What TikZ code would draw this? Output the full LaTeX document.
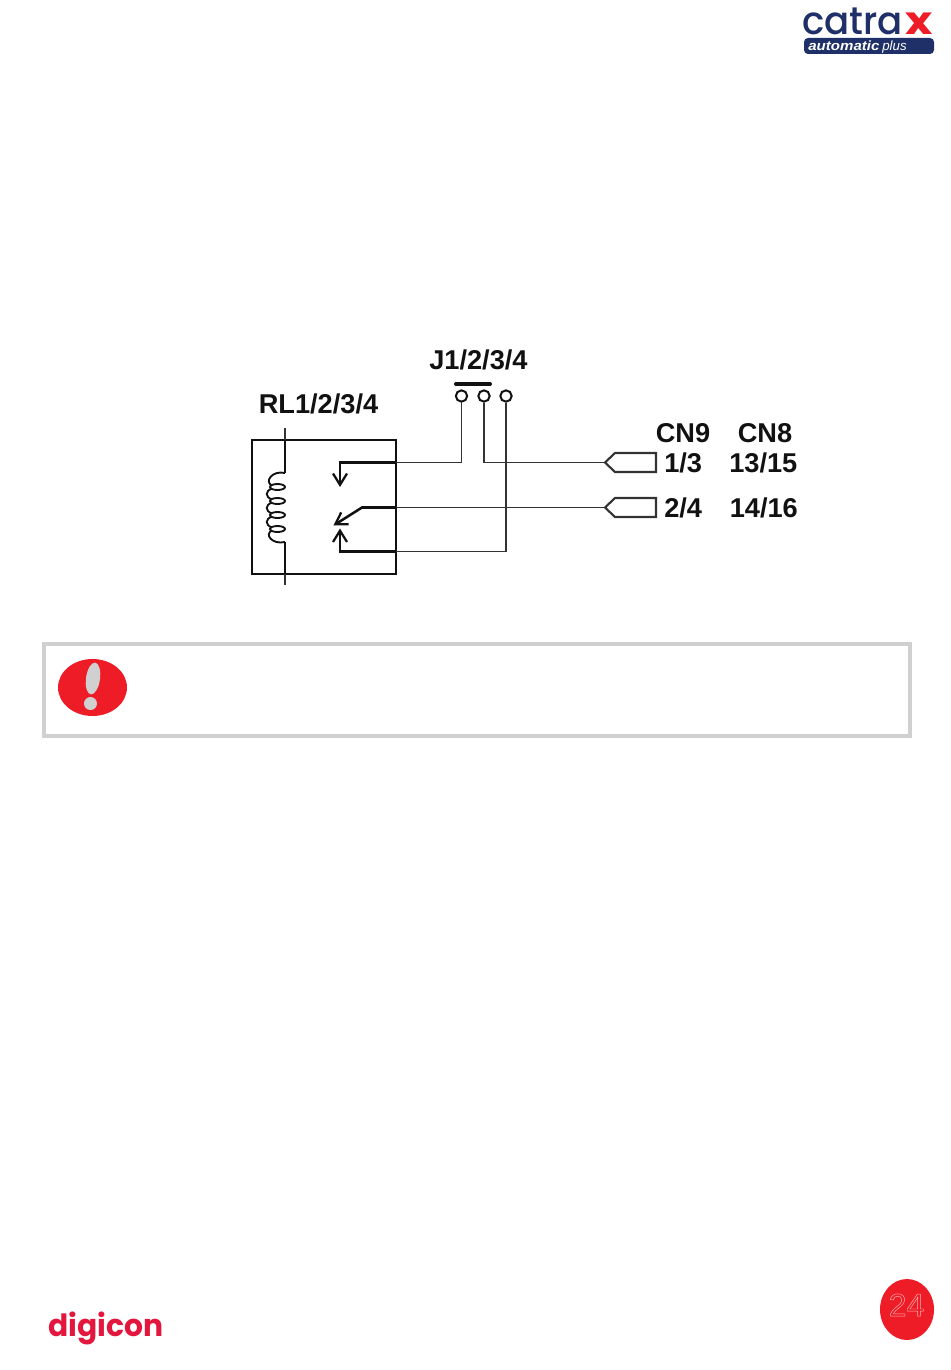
\documentclass[tikz,border=0pt]{standalone}
\usepackage{fontspec}
\setmainfont{Liberation Sans}
\newfontfamily\logofont{Poppins}
\newfontfamily\logomed{Poppins}[UprightFont=* Medium]
\usetikzlibrary{arrows.meta}
\definecolor{inkc}{HTML}{111111}
\definecolor{wirec}{HTML}{333333}
\definecolor{greyc}{HTML}{D0D0D0}
\definecolor{redc}{HTML}{EE1C27}
\definecolor{navyc}{HTML}{1F3068}
\definecolor{digic}{HTML}{E3173E}
\tikzset{
  thick wire/.style={draw=inkc,line width=1.9pt,line join=miter},
  thin wire/.style={draw=wirec,line width=0.95pt},
  barb/.style={-{Straight Barb[length=8.5pt,width=10.5pt,line width=1.7pt]}},
  lbl/.style={inner sep=0pt,anchor=base west,text=inkc,font=\fontsize{20.4}{24}\selectfont\bfseries},
  pin/.style={draw=wirec,line width=1.6pt,fill=white},
  term/.style={circle,draw=inkc,line width=1.5pt,fill=white,minimum size=8.5pt,inner sep=0pt},
  coil/.style={draw=inkc,line width=1.4pt},
}
\newcommand{\outlinetxt}[1]{\special{pdf:code q 1 0.72 0.72 RG 0.35 w 1 Tr}#1\special{pdf:code Q}}
\begin{document}
\begin{tikzpicture}[x=0.75pt,y=-0.75pt]
\useasboundingbox (0,0) rectangle (950,1370);

% logo
\node[inner sep=0pt,anchor=base west,text=navyc,font=\logomed\fontsize{29}{30}\selectfont,xscale=0.96] (catr) at (802,35) {catra};
\node[inner sep=0pt,anchor=base west,text=redc,font=\logofont\bfseries\fontsize{29}{30}\selectfont,xscale=1.2] (catx) at (905,35) {x};
\fill[navyc,rounded corners=3pt] (804,38) rectangle (934,54);
\node[inner sep=0pt,anchor=base west,text=white,font=\fontsize{10}{11}\selectfont\bfseries\itshape,xscale=1.13] (auto) at (808,50.5) {automatic};
\node[inner sep=0pt,anchor=base west,text=white,font=\fontsize{10}{11}\selectfont\itshape] (plus) at (882,50.5) {plus};

% labels
\node[lbl] (jl) at (429,369) {J1/2/3/4};
\node[lbl] (rl) at (258.5,413) {RL1/2/3/4};
\node[lbl] (cn9) at (655.5,442) {CN9};
\node[lbl] (cn8) at (737.5,442) {CN8};
\node[lbl] (a1) at (664,472.5) {1/3};
\node[lbl] (a2) at (729,472.5) {13/15};
\node[lbl] (b1) at (664,517.5) {2/4};
\node[lbl] (b2) at (729.5,517.5) {14/16};

% relay box
\draw[thick wire] (252,440) rectangle (396,574);
\coordinate (ctop) at (285,428);
\coordinate (cbot) at (285,585);
\coordinate (ca) at (285,473);
\coordinate (cb) at (285,542);
\draw[thin wire] (ctop) -- (ca);
\draw[thin wire] (cb) -- (cbot);
\draw[thick wire] (285,440) -- (ca);
\draw[thick wire] (cb) -- (285,574);
\draw[coil] (ca) .. controls (272,470) and (264,482) .. (272,485.5);
\draw[coil] (272,488.5) .. controls (265,491) and (265,497) .. (272,499.5);
\draw[coil] (272,502.5) .. controls (265,505) and (265,511) .. (272,513.5);
\draw[coil] (272,516.5) .. controls (265,519) and (265,525) .. (272,527.5);
\draw[coil] (272,530.5) .. controls (264,534) and (272,545) .. (cb);
\draw[coil] (277.5,487) ellipse [x radius=7.5,y radius=3];
\draw[coil] (277.5,501) ellipse [x radius=7.5,y radius=3];
\draw[coil] (277.5,515) ellipse [x radius=7.5,y radius=3];
\draw[coil] (277.5,529) ellipse [x radius=7.5,y radius=3];

% terminals and jumper
\node[term] (t1) at (461.5,396) {};
\node[term] (t2) at (484,396) {};
\node[term] (t3) at (506,396) {};
\coordinate (jl1) at (456,384);
\coordinate (jl2) at (490,384);
\draw[draw=inkc,line width=3pt,line cap=round] (jl1) -- (jl2);

% contact points
\coordinate (nc) at (340,487);
\coordinate (ncc) at (340,462.5);
\coordinate (ncb) at (396,462.5);
\coordinate (no) at (340,528.5);
\coordinate (noc) at (340,551.5);
\coordinate (nob) at (396,551.5);
\coordinate (com) at (362,507.5);
\coordinate (comb) at (396,507.5);
\coordinate (comt) at (333.5,525.5);
\coordinate (p1) at (605,462.5);
\coordinate (p2) at (605,507.5);

% wires
\draw[thin wire] (t1.south) |- (ncb);
\draw[thick wire,barb] (ncb) -- (ncc) -- (nc);
\draw[thin wire] (t2.south) |- (p1);
\draw[thin wire] (t3.south) |- (nob);
\draw[thick wire,barb] (nob) -- (noc) -- (no);
\draw[thin wire] (comb) -- (p2);
\draw[thick wire,barb] (comb) -- (com) -- (comt);

% connector pins
\draw[pin] (p1) -- ++(10,-9.5) -- ++(41,0) -- ++(0,19) -- ++(-41,0) -- cycle;
\draw[pin] (p2) -- ++(10,-9.5) -- ++(41,0) -- ++(0,19) -- ++(-41,0) -- cycle;

% warning box
\draw[draw=greyc,line width=3pt] (44,644) rectangle (910,736);
\fill[redc] (92.5,687.5) ellipse [x radius=34.5,y radius=28.5];
\fill[greyc,rotate around={-8:(93,678.5)}] (93,678.5) ellipse [x radius=7,y radius=16];
\fill[greyc] (90.5,703.5) circle [radius=6.5];

% footer
\node[inner sep=0pt,anchor=base west,text=digic,font=\logofont\bfseries\fontsize{23}{24}\selectfont,xscale=0.97] (digi) at (48,1336.5) {digicon};
\fill[redc] (907,1309.5) ellipse [x radius=27,y radius=30.5];
\node[inner sep=0pt,text=redc,font=\fontsize{24}{26}\selectfont] (pg) at (906.5,1305) {\outlinetxt{24}};
\end{tikzpicture}
\end{document}
